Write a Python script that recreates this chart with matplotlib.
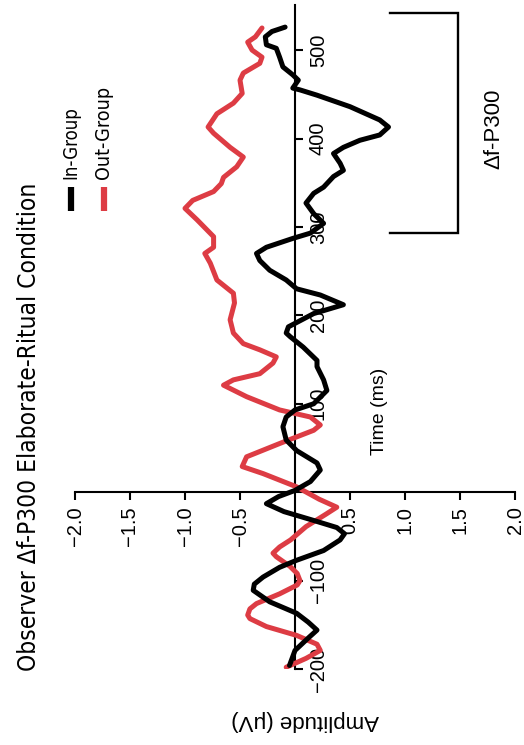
import matplotlib
matplotlib.use("Agg")
import matplotlib.pyplot as plt
from matplotlib.lines import Line2D
from matplotlib import font_manager
from matplotlib.font_manager import FontProperties

# ---------------- data ----------------
in_time = [-196, -179, -165, -156, -147, -137, -124, -111, -104, -96, -85, -77, -66, -54, -47, -40,
           -32, -22, -13, -5, 2, 12, 25, 33, 47, 59, 74, 85, 93, 100, 115, 127, 142, 149, 164,
           176, 180, 187, 202, 212, 223, 230, 240, 251, 262, 270, 277, 287, 293, 304, 315, 327,
           338, 345, 357, 364, 372, 383, 390, 398, 404, 413, 421, 436, 449, 455, 457, 466, 472,
           481, 492, 502, 506, 515, 521, 526]
in_amp = [-0.05, 0.0, 0.12, 0.20, 0.12, 0.015, -0.23, -0.38, -0.37, -0.29, -0.14, 0.015, 0.26, 0.41,
          0.45, 0.38, 0.17, -0.10, -0.26, -0.15, 0.0, 0.14, 0.23, 0.20, 0.015, -0.08, -0.11, -0.08,
          0.0, 0.17, 0.29, 0.26, 0.20, 0.20, 0.075, -0.045, -0.08, -0.06, 0.17, 0.44, 0.23, 0.015,
          -0.08, -0.23, -0.32, -0.35, -0.26, -0.02, 0.14, 0.26, 0.17, 0.10, 0.17, 0.26, 0.35, 0.44,
          0.41, 0.35, 0.44, 0.59, 0.77, 0.85, 0.77, 0.50, 0.20, 0.045, -0.02, 0.03, -0.02, -0.11,
          -0.14, -0.17, -0.26, -0.27, -0.21, -0.09]

out_time = [-198, -188, -179, -172, -162, -152, -143, -139, -132, -126, -115, -105, -100, -92, -84,
            -73, -69, -62, -54, -39, -25, -17, -8, 6, 21, 29, 40, 55, 70, 76, 85, 93, 108, 121,
            127, 134, 146, 153, 161, 168, 180, 195, 214, 225, 240, 259, 270, 277, 289, 308, 321,
            330, 340, 349, 356, 368, 379, 390, 406, 413, 428, 440, 451, 466, 474, 485, 492, 500,
            509, 515, 525]
out_amp = [-0.08, 0.10, 0.23, 0.20, 0.015, -0.26, -0.41, -0.43, -0.41, -0.35, -0.14, 0.02, 0.045,
           0.02, -0.045, -0.17, -0.20, -0.14, -0.04, 0.10, 0.28, 0.38, 0.22, 0.015, -0.29, -0.48,
           -0.44, -0.14, 0.17, 0.23, 0.14, -0.14, -0.44, -0.65, -0.56, -0.32, -0.20, -0.17, -0.32,
           -0.47, -0.56, -0.59, -0.55, -0.56, -0.71, -0.77, -0.82, -0.74, -0.74, -0.89, -1.0,
           -0.93, -0.74, -0.67, -0.65, -0.53, -0.47, -0.59, -0.74, -0.79, -0.71, -0.56, -0.48,
           -0.50, -0.47, -0.32, -0.30, -0.39, -0.43, -0.36, -0.30]

amp_ticks = [-2.0, -1.5, -1.0, -0.5, 0.5, 1.0, 1.5, 2.0]
time_ticks = [-200, -100, 100, 200, 300, 400, 500]
series_labels = ["In-Group", "Out-Group"]
title = "Observer \u0394f-P300 Elaborate-Ritual Condition"
bracket_time = [293, 542]
bracket_amp = [0.86, 1.48]
bracket_label = "\u0394f-P300"

# ---------------- fonts ----------------
names = {f.name for f in font_manager.fontManager.ttflist}
REG = "Liberation Sans" if "Liberation Sans" in names else "DejaVu Sans"


def find_condensed():
    cands = []
    for f in font_manager.fontManager.ttflist:
        nm = f.name.lower()
        fn = f.fname.lower()
        st = str(f.stretch).lower()
        cond = ("narrow" in nm or "condensed" in nm or "condensed" in fn or "narrow" in fn
                or st in ("condensed", "semi-condensed", "extra-condensed"))
        if not cond:
            continue
        if "bold" in fn or "italic" in fn or "oblique" in fn or "light" in fn:
            continue
        if f.style != "normal":
            continue
        if "serif" in nm and "sans" not in nm:
            continue
        score = 0
        if "liberation" in nm or "arial" in nm or "helvet" in nm:
            score -= 3
        if "sans" in nm or "roboto" in nm:
            score -= 1
        cands.append((score, f.fname))
    if not cands:
        return None
    cands.sort()
    return cands[0][1]


COND_FILE = find_condensed()


def cond_props(size):
    if COND_FILE:
        return FontProperties(fname=COND_FILE, size=size)
    return FontProperties(family=REG, size=size)


BLACK = "#000000"
RED = "#dd3c44"

W, H = 524, 745
fig = plt.figure(figsize=(W / 100, H / 100), dpi=100)
renderer = fig.canvas.get_renderer()


def fx(px):
    return px / W


def fy(py):
    return 1 - py / H


def fit_length(txt, target_px):
    """Scale font size so the rotated text's long side matches target_px."""
    for _ in range(3):
        bb = txt.get_window_extent(renderer=renderer)
        cur = max(bb.width, bb.height)
        if cur <= 0:
            return
        txt.set_fontsize(txt.get_fontsize() * target_px / cur)


# axes: x = amplitude (-2..2 -> px 75..515), y = time (-200..551 -> px 669..5)
ax = fig.add_axes([fx(75), fy(669), fx(515) - fx(75), fy(5) - fy(669)])
ax.set_xlim(-2.0, 2.0)
ax.set_ylim(-200, 551)
ax.patch.set_visible(False)
ax.set_axisbelow(True)

for s in ["top", "left"]:
    ax.spines[s].set_visible(False)
ax.spines["right"].set_position(("data", 0))
ax.spines["bottom"].set_position(("data", 0))
for s in ["right", "bottom"]:
    ax.spines[s].set_linewidth(1.5)

ax.yaxis.tick_right()
ax.set_yticks(time_ticks)
ax.set_yticklabels([str(t).replace("-", "\u2212") for t in time_ticks],
                   rotation=90, va="center", ha="left", fontfamily=REG, fontsize=14.5)
ax.set_xticks(amp_ticks)
ax.set_xticklabels([f"{a:.1f}".replace("-", "\u2212") for a in amp_ticks],
                   rotation=90, va="top", ha="center", fontfamily=REG, fontsize=14.5)
ax.tick_params(axis="both", direction="out", length=6, width=1.5, pad=4)

ax.plot(in_amp, in_time, color=BLACK, lw=3.6, solid_capstyle="round",
        solid_joinstyle="round", zorder=4)
ax.plot(out_amp, out_time, color=RED, lw=3.6, solid_capstyle="round",
        solid_joinstyle="round", zorder=3)

# bracket
ax.plot([bracket_amp[0], bracket_amp[1], bracket_amp[1], bracket_amp[0]],
        [bracket_time[1], bracket_time[1], bracket_time[0], bracket_time[0]],
        color=BLACK, lw=1.7, zorder=3, solid_joinstyle="miter")
fig.text(fx(494), fy(129), bracket_label, rotation=90, ha="center", va="center",
         fontfamily=REG, fontsize=16)

# axis labels
fig.text(fx(380), fy(411), "Time (ms)", rotation=90, ha="center", va="center",
         fontfamily=REG, fontsize=14)
fig.text(fx(305), fy(721), "Amplitude (\u03bcV)", rotation=180, ha="center", va="center",
         fontfamily=REG, fontsize=16)

# title
t_title = fig.text(fx(29), fy(427), title, rotation=90, ha="center", va="center",
                   fontproperties=cond_props(20))
fit_length(t_title, 488)

# legend (manual, rotated)
leg_x = [71, 104]
leg_len = [73, 93]
leg_col = [BLACK, RED]
for lx, lab, c, ln in zip(leg_x, series_labels, leg_col, leg_len):
    fig.add_artist(Line2D([fx(lx), fx(lx)], [fy(187), fy(211)], color=c, lw=4.5,
                          transform=fig.transFigure, solid_capstyle="butt"))
    tl = fig.text(fx(lx), fy(179), lab, rotation=90, ha="center", va="bottom",
                  fontproperties=cond_props(16))
    fit_length(tl, ln)

fig.savefig("out.png", dpi=100)
